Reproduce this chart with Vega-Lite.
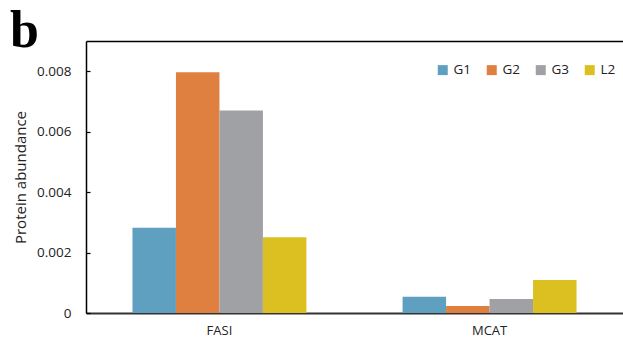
{
  "$schema": "https://vega.github.io/schema/vega-lite/v6.json",
  "autosize": {"type": "none"},
  "width": 537,
  "height": 272,
  "padding": {"left": 86, "top": 41, "right": 0, "bottom": 29},
  "background": "white",
  "config": {
    "view": {"stroke": null},
    "font": "Open Sans",
    "axis": {"grid": false, "labelColor": "#222", "titleColor": "#222"}
  },
  "title": {
    "text": "b",
    "font": "Liberation Serif",
    "fontSize": 52,
    "fontWeight": "bold",
    "color": "black",
    "anchor": "start",
    "frame": "group",
    "baseline": "alphabetic",
    "dx": -76,
    "offset": 0,
    "dy": 58
  },
  "data": {
    "values": [
      {"protein": "FASI", "group": "G1", "abundance": 0.00282},
      {"protein": "FASI", "group": "G2", "abundance": 0.00797},
      {"protein": "FASI", "group": "G3", "abundance": 0.00670},
      {"protein": "FASI", "group": "L2", "abundance": 0.00251},
      {"protein": "MCAT", "group": "G1", "abundance": 0.00054},
      {"protein": "MCAT", "group": "G2", "abundance": 0.00023},
      {"protein": "MCAT", "group": "G3", "abundance": 0.00046},
      {"protein": "MCAT", "group": "L2", "abundance": 0.00109}
    ]
  },
  "resolve": {"axis": {"x": "independent"}},
  "layer": [
    {
      "mark": {"type": "bar"},
      "encoding": {
        "x": {
          "field": "protein", "type": "nominal",
          "scale": {"paddingInner": 0.356, "paddingOuter": 0.172},
          "axis": {"title": null, "orient": "bottom", "ticks": false, "labelAngle": 0,
                   "labelFontSize": 13, "labelPadding": 11, "domainColor": "#333", "domainWidth": 2.2}
        },
        "xOffset": {"field": "group", "type": "nominal", "scale": {"paddingInner": 0, "paddingOuter": 0}},
        "y": {
          "field": "abundance", "type": "quantitative",
          "scale": {"domain": [0, 0.009], "nice": false},
          "axis": {
            "title": "Protein abundance", "titleFontSize": 15, "titleFontWeight": "normal", "titlePadding": 8,
            "values": [0, 0.002, 0.004, 0.006, 0.008],
            "labelExpr": "datum.value == 0 ? '0' : format(datum.value, '.3f')",
            "labelFontSize": 13.5, "labelPadding": 19,
            "tickSize": -4, "tickColor": "black", "tickWidth": 1.2,
            "domainColor": "black", "domainWidth": 1.5
          }
        },
        "color": {
          "field": "group", "type": "nominal",
          "scale": {"domain": ["G1", "G2", "G3", "L2"], "range": ["#5fa0c0", "#e08040", "#a0a1a5", "#dcc022"]},
          "legend": {
            "title": null, "orient": "none", "direction": "horizontal",
            "legendX": 350, "legendY": 22,
            "symbolType": "square", "symbolSize": 100, "symbolStrokeWidth": 0,
            "labelFontSize": 13.5, "labelColor": "#222", "labelOffset": 4, "columnPadding": 13
          }
        }
      }
    },
    {
      "mark": {"type": "bar", "opacity": 0},
      "encoding": {
        "x": {
          "field": "protein", "type": "nominal",
          "axis": {"title": null, "orient": "top", "ticks": false, "labels": false, "domainColor": "black", "domainWidth": 1.5}
        },
        "xOffset": {"field": "group", "type": "nominal"},
        "y": {"field": "abundance", "type": "quantitative"}
      }
    }
  ]
}
